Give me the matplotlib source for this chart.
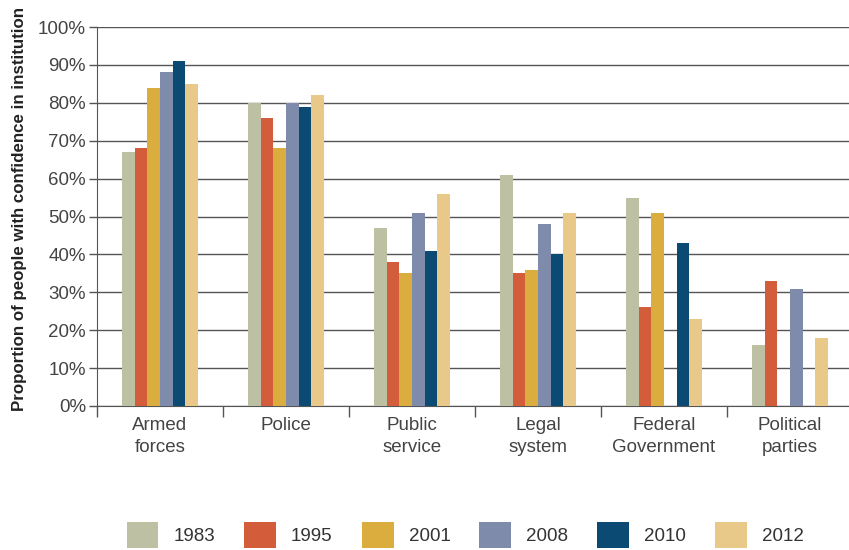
import matplotlib.pyplot as plt
import numpy as np

plt.rcParams['font.family'] = ['Liberation Sans Narrow', 'Liberation Sans', 'DejaVu Sans']

categories = ['Armed\nforces', 'Police', 'Public\nservice', 'Legal\nsystem',
              'Federal\nGovernment', 'Political\nparties']
years = ['1983', '1995', '2001', '2008', '2010', '2012']
nan = np.nan
v1983 = [67, 80, 47, 61, 55, 16]
v1995 = [68, 76, 38, 35, 26, 33]
v2001 = [84, 68, 35, 36, 51, nan]
v2008 = [88, 80, 51, 48, nan, 31]
v2010 = [91, 79, 41, 40, 43, nan]
v2012 = [85, 82, 56, 51, 23, 18]
series = [v1983, v1995, v2001, v2008, v2010, v2012]
colors = ['#BDC0A3', '#D35D3A', '#DBAD3F', '#7F8BAA', '#0B4A73', '#E8C98A']

fig = plt.figure(figsize=(8.49, 5.5), dpi=100)
ax = fig.add_axes([97 / 849, 1 - 406 / 550, 756 / 849, 379 / 550])

x = np.arange(len(categories))
w = 0.1
for i, (vals, c, yr) in enumerate(zip(series, colors, years)):
    ax.bar(x + (i - 2.5) * w, vals, width=w, color=c, label=yr, zorder=3)

ax.set_ylim(0, 100)
ax.set_xlim(-0.5, len(categories) - 0.5)
ax.set_yticks(range(0, 101, 10))
ax.set_yticklabels([f'{t}%' for t in range(0, 101, 10)], color='#444444', fontsize=13.5)
ax.yaxis.grid(True, color='#555555', linewidth=1)
ax.set_axisbelow(True)

ax.set_xticks(x)
ax.set_xticklabels(categories, color='#444444', fontsize=13.5, linespacing=1.35)
ax.tick_params(axis='x', which='major', length=0, pad=8)
ax.set_xticks(np.arange(-0.5, len(categories)), minor=True)
ax.tick_params(axis='x', which='minor', length=8, color='#555555', width=1)
ax.tick_params(axis='y', length=6, color='#555555', width=1, pad=2)

for s in ['top', 'right']:
    ax.spines[s].set_visible(False)
ax.spines['left'].set_color('#555555')
ax.spines['bottom'].set_color('#555555')

ax.set_ylabel('Proportion of people with confidence in institution', fontsize=12.2,
              fontweight='bold', color='#222222')
ax.yaxis.set_label_coords(-0.092, 0.52)

fig.legend(loc='center', bbox_to_anchor=(0.548, 1 - 535 / 550), ncol=6, frameon=False,
           fontsize=13.5, handlelength=1.7, handleheight=1.7, columnspacing=1.55,
           handletextpad=0.8, labelcolor='#333333')

fig.savefig('out.png', dpi=100)
